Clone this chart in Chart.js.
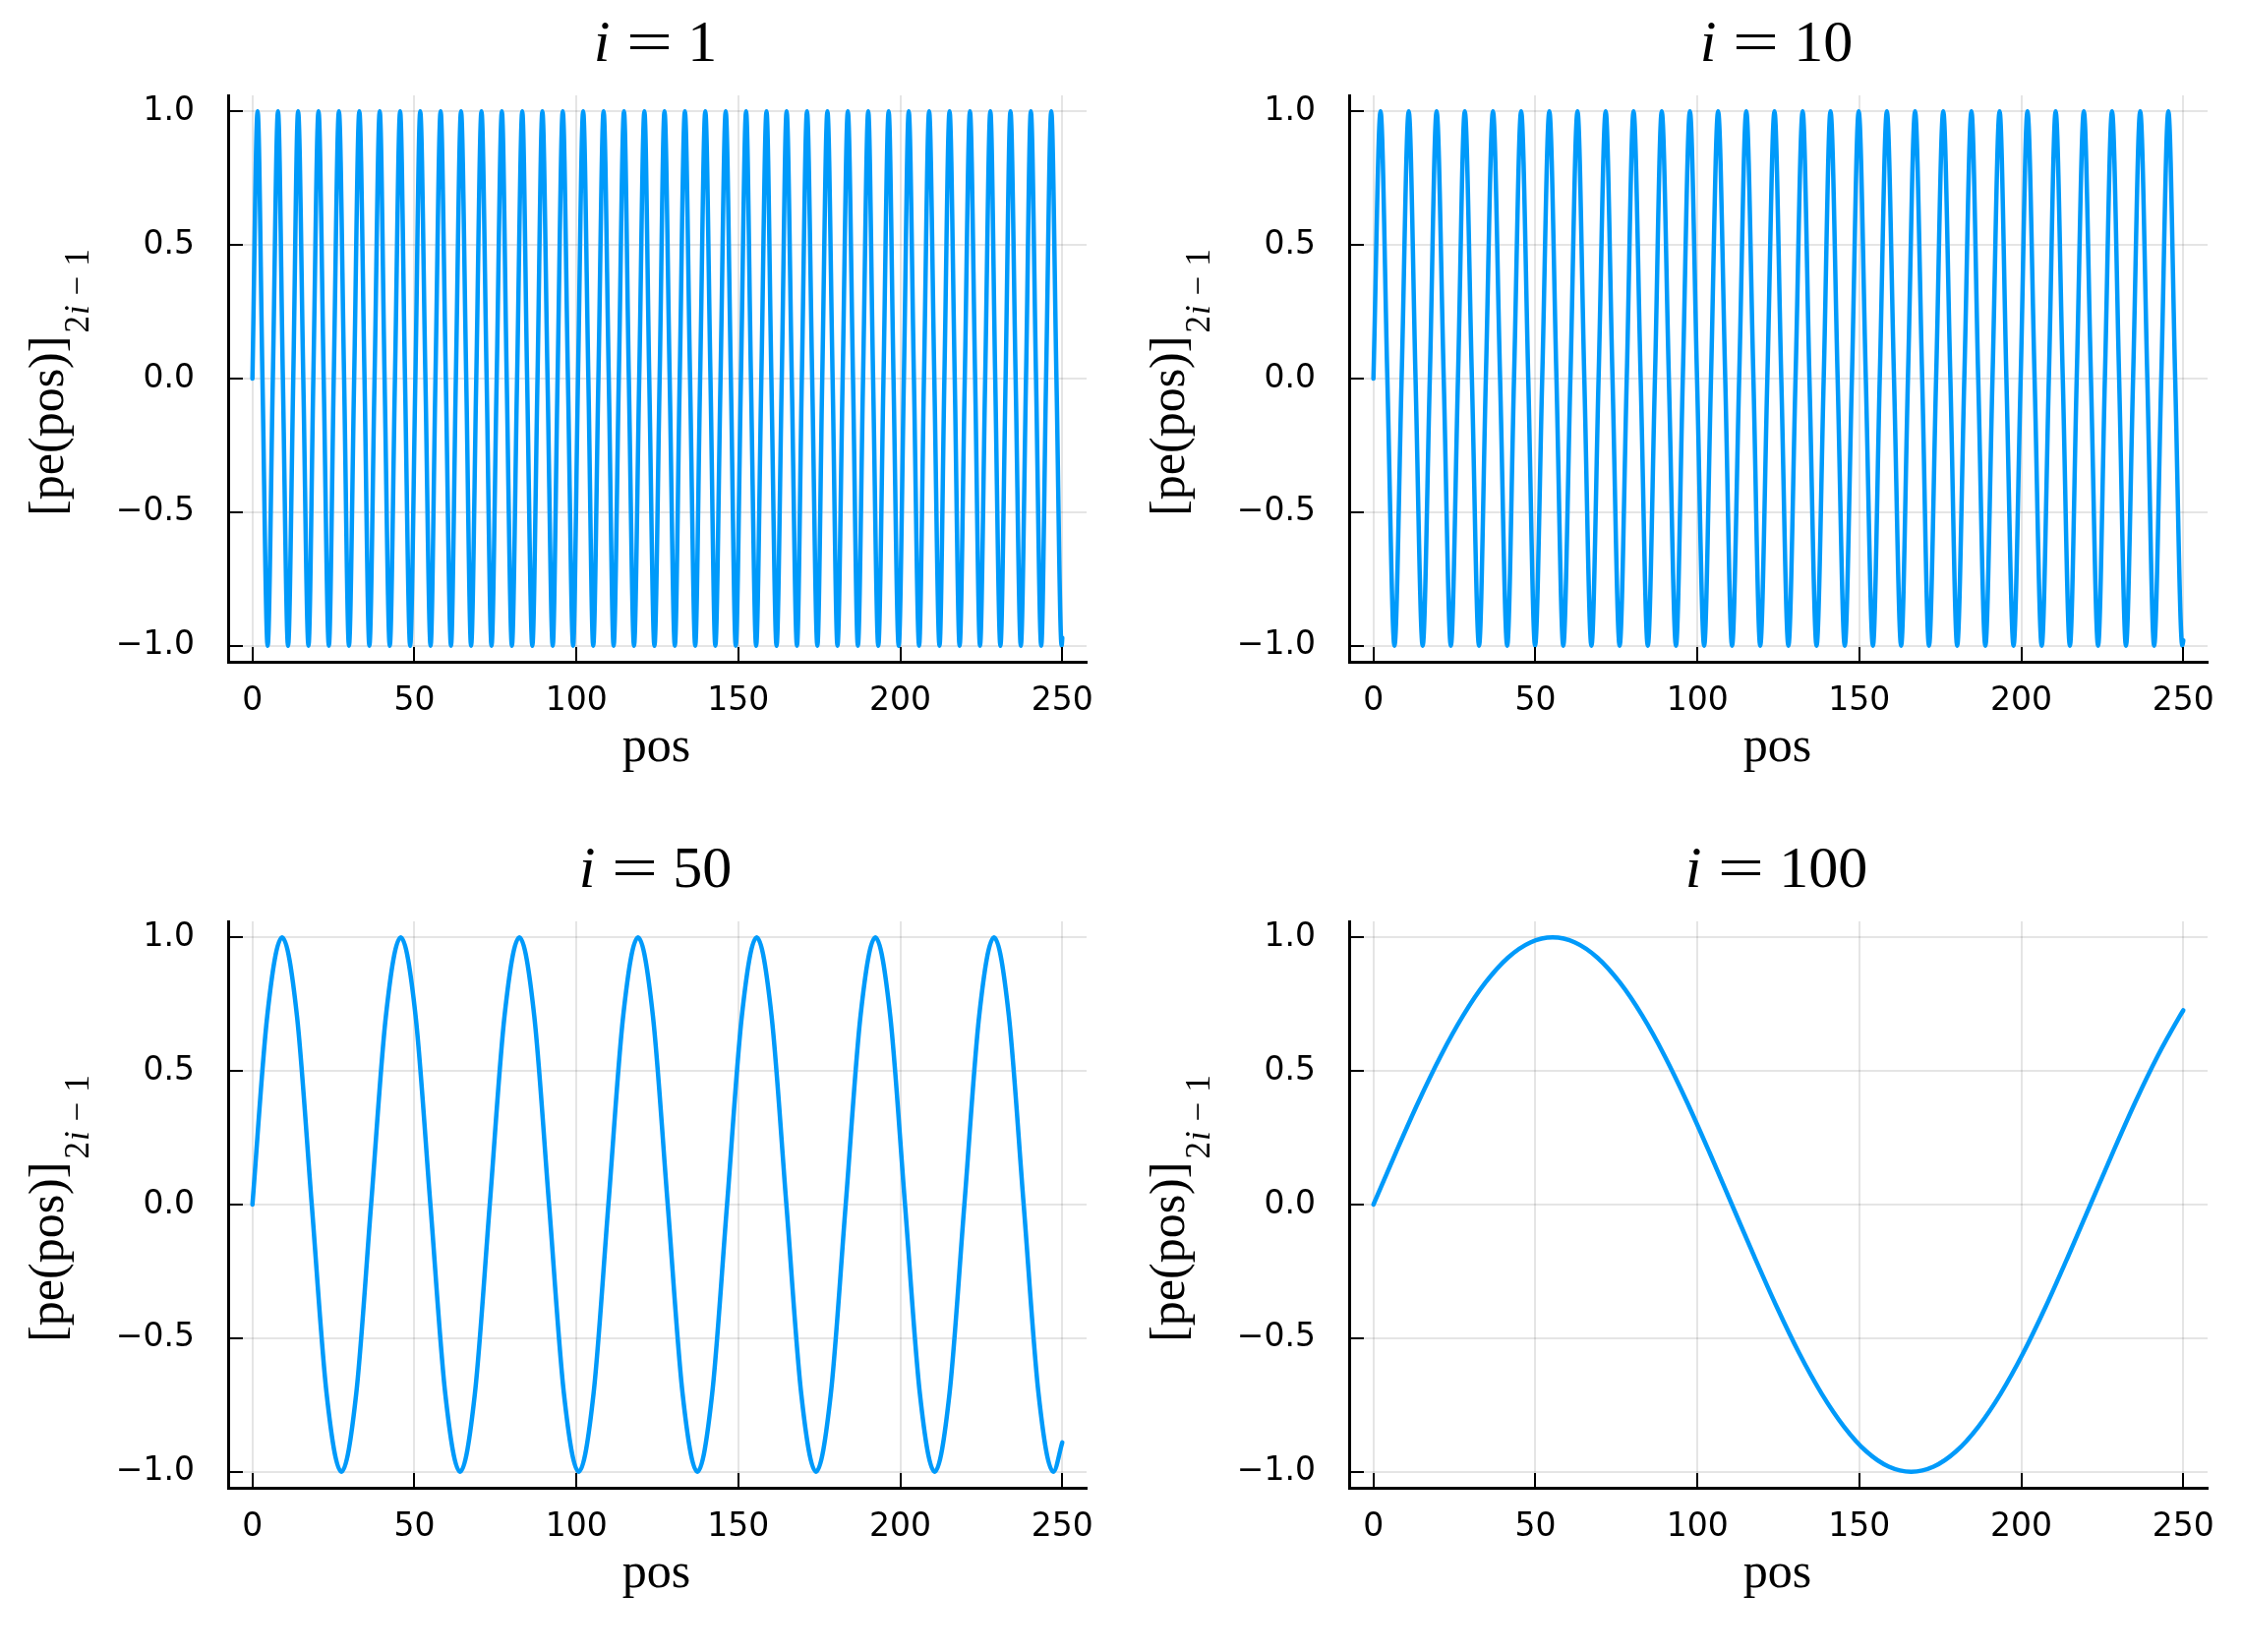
<!DOCTYPE html>
<html><head><meta charset="utf-8">
<script src="https://cdn.jsdelivr.net/npm/chart.js@4.4.1/dist/chart.umd.min.js"></script>
<style>
html,body{margin:0;padding:0;background:#fff;}
#wrap{position:relative;width:2280px;height:1680px;background:#fff;}
canvas{position:absolute;}
</style></head><body>
<div id="wrap">
<canvas id="c0" width="1140" height="840" style="left:0;top:0"></canvas>
<canvas id="c1" width="1140" height="840" style="left:1140px;top:0"></canvas>
<canvas id="c2" width="1140" height="840" style="left:0;top:840px"></canvas>
<canvas id="c3" width="1140" height="840" style="left:1140px;top:840px"></canvas>
</div>
<script>
// ---- labels / ticks ----
const panelNums = ['1', '10', '50', '100'];
const xTicks = [0, 50, 100, 150, 200, 250];
const xTickLabels = ['0', '50', '100', '150', '200', '250'];
const yTicks = [-1, -0.5, 0, 0.5, 1];
const yTickLabels = ['\u22121.0', '\u22120.5', '0.0', '0.5', '1.0'];
const xLabel = 'pos';
const yLabelMain = '[pe(pos)]';

// ---- i = 1 (extrema and zero crossings) ----
const posI1 = [
0.0,1.6,3.1,4.7,6.3,7.9,9.4,11.0,12.6,14.1,
15.7,17.3,18.8,20.4,22.0,23.6,25.1,26.7,28.3,29.8,
31.4,33.0,34.6,36.1,37.7,39.3,40.8,42.4,44.0,45.6,
47.1,48.7,50.3,51.8,53.4,55.0,56.5,58.1,59.7,61.3,
62.8,64.4,66.0,67.5,69.1,70.7,72.3,73.8,75.4,77.0,
78.5,80.1,81.7,83.3,84.8,86.4,88.0,89.5,91.1,92.7,
94.2,95.8,97.4,99.0,100.5,102.1,103.7,105.2,106.8,108.4,
110.0,111.5,113.1,114.7,116.2,117.8,119.4,121.0,122.5,124.1,
125.7,127.2,128.8,130.4,131.9,133.5,135.1,136.7,138.2,139.8,
141.4,142.9,144.5,146.1,147.7,149.2,150.8,152.4,153.9,155.5,
157.1,158.7,160.2,161.8,163.4,164.9,166.5,168.1,169.6,171.2,
172.8,174.4,175.9,177.5,179.1,180.6,182.2,183.8,185.4,186.9,
188.5,190.1,191.6,193.2,194.8,196.4,197.9,199.5,201.1,202.6,
204.2,205.8,207.3,208.9,210.5,212.1,213.6,215.2,216.8,218.3,
219.9,221.5,223.1,224.6,226.2,227.8,229.3,230.9,232.5,234.0,
235.6,237.2,238.8,240.3,241.9,243.5,245.0,246.6,248.2,249.8,
250.0];
const peI1 = [
0,1,0,-1,0,1,0,-1,0,1,0,-1,0,1,0,-1,0,1,0,-1,0,1,0,-1,0,1,0,-1,0,1,0,-1,0,1,0,-1,0,1,0,-1,
0,1,0,-1,0,1,0,-1,0,1,0,-1,0,1,0,-1,0,1,0,-1,0,1,0,-1,0,1,0,-1,0,1,0,-1,0,1,0,-1,0,1,0,-1,
0,1,0,-1,0,1,0,-1,0,1,0,-1,0,1,0,-1,0,1,0,-1,0,1,0,-1,0,1,0,-1,0,1,0,-1,0,1,0,-1,0,1,0,-1,
0,1,0,-1,0,1,0,-1,0,1,0,-1,0,1,0,-1,0,1,0,-1,0,1,0,-1,0,1,0,-1,0,1,0,-1,0,1,0,-1,0,1,0,-1,
-0.97];

// ---- i = 10 ----
const posI10 = [
0.0,2.2,4.3,6.5,8.7,10.9,13.0,15.2,17.4,19.5,
21.7,23.9,26.1,28.2,30.4,32.6,34.7,36.9,39.1,41.3,
43.4,45.6,47.8,49.9,52.1,54.3,56.5,58.6,60.8,63.0,
65.1,67.3,69.5,71.7,73.8,76.0,78.2,80.3,82.5,84.7,
86.9,89.0,91.2,93.4,95.5,97.7,99.9,102.1,104.2,106.4,
108.6,110.7,112.9,115.1,117.3,119.4,121.6,123.8,125.9,128.1,
130.3,132.5,134.6,136.8,139.0,141.1,143.3,145.5,147.7,149.8,
152.0,154.2,156.3,158.5,160.7,162.9,165.0,167.2,169.4,171.5,
173.7,175.9,178.1,180.2,182.4,184.6,186.7,188.9,191.1,193.3,
195.4,197.6,199.8,201.9,204.1,206.3,208.5,210.6,212.8,215.0,
217.1,219.3,221.5,223.7,225.8,228.0,230.2,232.3,234.5,236.7,
238.9,241.0,243.2,245.4,247.5,249.7,
250.0];
const peI10 = [
0,1,0,-1,0,1,0,-1,0,1,0,-1,0,1,0,-1,0,1,0,-1,0,1,0,-1,0,1,0,-1,0,1,0,-1,
0,1,0,-1,0,1,0,-1,0,1,0,-1,0,1,0,-1,0,1,0,-1,0,1,0,-1,0,1,0,-1,0,1,0,-1,
0,1,0,-1,0,1,0,-1,0,1,0,-1,0,1,0,-1,0,1,0,-1,0,1,0,-1,0,1,0,-1,0,1,0,-1,
0,1,0,-1,0,1,0,-1,0,1,0,-1,0,1,0,-1,0,1,0,-1,
-0.98];

// ---- i = 50 ----
const posI50 = [
0.00,4.58,9.16,13.74,18.31,22.89,27.47,32.05,
36.63,41.21,45.79,50.36,54.94,59.52,64.10,68.68,
73.26,77.83,82.41,86.99,91.57,96.15,100.73,105.31,
109.88,114.46,119.04,123.62,128.20,132.78,137.36,141.93,
146.51,151.09,155.67,160.25,164.83,169.40,173.98,178.56,
183.14,187.72,192.30,196.88,201.45,206.03,210.61,215.19,
219.77,224.35,228.93,233.50,238.08,242.66,247.24,
250.00];
const peI50 = [
0,0.707,1,0.707,0,-0.707,-1,-0.707,
0,0.707,1,0.707,0,-0.707,-1,-0.707,
0,0.707,1,0.707,0,-0.707,-1,-0.707,
0,0.707,1,0.707,0,-0.707,-1,-0.707,
0,0.707,1,0.707,0,-0.707,-1,-0.707,
0,0.707,1,0.707,0,-0.707,-1,-0.707,
0,0.707,1,0.707,0,-0.707,-1,
-0.89];

// ---- i = 100 ----
const posI100 = [
0.00,6.92,13.83,20.75,27.67,34.58,41.50,48.42,55.33,62.25,
69.17,76.08,83.00,89.92,96.83,103.75,110.66,117.58,124.50,131.41,
138.33,145.25,152.16,159.08,166.00,172.91,179.83,186.75,193.66,200.58,
207.50,214.41,221.33,228.25,235.16,242.08,249.00,250.00];
const peI100 = [
0,0.195,0.383,0.556,0.707,0.831,0.924,0.981,1,0.981,
0.924,0.831,0.707,0.556,0.383,0.195,0,-0.195,-0.383,-0.556,
-0.707,-0.831,-0.924,-0.981,-1,-0.981,-0.924,-0.831,-0.707,-0.556,
-0.383,-0.195,0,0.195,0.383,0.556,0.707,0.727];

const panelPos = [posI1, posI10, posI50, posI100];
const panelVals = [peI1, peI10, peI50, peI100];

const SERIF = '"Liberation Serif", "DejaVu Serif", serif';

const deco = {
  id: 'deco',
  afterDraw(chart, args, opts) {
    const ctx = chart.ctx;
    const xs = chart.scales.x, ys = chart.scales.y;
    const ca = chart.chartArea;
    ctx.save();
    // inward tick marks
    ctx.strokeStyle = '#000';
    ctx.lineWidth = 2;
    xTicks.forEach(v => {
      const p = Math.round(xs.getPixelForValue(v));
      ctx.beginPath(); ctx.moveTo(p, ca.bottom); ctx.lineTo(p, ca.bottom - 15); ctx.stroke();
    });
    yTicks.forEach(v => {
      const p = Math.round(ys.getPixelForValue(v));
      ctx.beginPath(); ctx.moveTo(ca.left, p); ctx.lineTo(ca.left + 15, p); ctx.stroke();
    });

    ctx.fillStyle = '#000';
    ctx.textBaseline = 'alphabetic';
    ctx.textAlign = 'left';
    const cx = (ca.left + ca.right) / 2 - 2;

    // title: i = N
    const fI = 'italic 60px ' + SERIF;
    const fR = '60px ' + SERIF;
    ctx.font = fI; const wi = ctx.measureText('i').width;
    ctx.font = fR; const wn = ctx.measureText(opts.num).width;
    const eqW = 42, g1 = 19, g2 = 18;
    const total = wi + g1 + eqW + g2 + wn;
    let x = cx - total / 2;
    const by = 62;
    ctx.font = fI; ctx.fillText('i', x, by);
    x += wi + g1;
    ctx.font = fR;
    ctx.save();
    ctx.translate(x + eqW / 2, by);
    ctx.scale(1.4, 1);
    ctx.textAlign = 'center';
    ctx.fillText('=', 0, 0);
    ctx.restore();
    x += eqW + g2;
    ctx.fillText(opts.num, x, by);

    // x label
    ctx.font = '50px ' + SERIF;
    ctx.textAlign = 'center';
    ctx.fillText(xLabel, cx + 1, ca.bottom + 101);

    // y label (rotated) with subscript 2i − 1
    ctx.textAlign = 'left';
    const fM = '50px ' + SERIF;
    const fS = '35px ' + SERIF;
    const fSI = 'italic 35px ' + SERIF;
    ctx.font = fM; const wM = ctx.measureText(yLabelMain).width;
    ctx.font = fS;
    const w2 = ctx.measureText('2').width;
    const wMinus = ctx.measureText('\u2212').width;
    const w1 = ctx.measureText('1').width;
    ctx.font = fSI; const wsi = ctx.measureText('i').width;
    const sx2 = wM + 3;
    const sxi = sx2 + w2 + 1;
    const sxm = sxi + wsi + 10;
    const sx1 = sxm + wMinus + 10;
    const L = sx1 + w1;
    const cy = (ca.top + ca.bottom) / 2 + 4;
    ctx.save();
    ctx.translate(63.5, cy);
    ctx.rotate(-Math.PI / 2);
    const x0 = -L / 2;
    ctx.font = fM; ctx.fillText(yLabelMain, x0, 0);
    ctx.font = fS; ctx.fillText('2', x0 + sx2, 26.5);
    ctx.font = fSI; ctx.fillText('i', x0 + sxi, 26.5);
    ctx.font = fS; ctx.fillText('\u2212', x0 + sxm, 26.5);
    ctx.fillText('1', x0 + sx1, 26.5);
    ctx.restore();

    ctx.restore();
  }
};

function makeChart(k) {
  const pos = panelPos[k], vals = panelVals[k];
  const data = pos.map((xv, j) => ({ x: xv, y: vals[j] }));
  new Chart(document.getElementById('c' + k), {
    type: 'scatter',
    data: {
      datasets: [{
        data: data,
        showLine: true,
        borderColor: '#009AFA',
        backgroundColor: '#009AFA',
        borderWidth: 4.5,
        pointRadius: 0,
        pointHoverRadius: 0,
        cubicInterpolationMode: 'monotone',
        fill: false,
        borderCapStyle: 'round',
        borderJoinStyle: 'round'
      }]
    },
    options: {
      responsive: false,
      animation: false,
      devicePixelRatio: 1,
      events: [],
      layout: { padding: { left: 0, top: 97, right: 35, bottom: 0 }, autoPadding: false },
      plugins: {
        legend: { display: false },
        tooltip: { enabled: false },
        title: { display: false },
        deco: { num: panelNums[k] }
      },
      scales: {
        x: {
          type: 'linear',
          min: -7.5, max: 257.5,
          afterBuildTicks: s => { s.ticks = xTicks.map(v => ({ value: v })); },
          afterFit: s => { s.height = 167; },
          grid: { color: 'rgba(0,0,0,0.1)', lineWidth: 2, drawTicks: false },
          border: { display: true, color: '#000', width: 3 },
          ticks: {
            autoSkip: false, maxRotation: 0, minRotation: 0, padding: 21, color: '#000',
            font: { family: '"DejaVu Sans"', size: 33 },
            callback: (v, i) => xTickLabels[i]
          }
        },
        y: {
          type: 'linear',
          min: -1.06, max: 1.06,
          afterBuildTicks: s => { s.ticks = yTicks.map(v => ({ value: v })); },
          afterFit: s => { s.width = 232; },
          grid: { color: 'rgba(0,0,0,0.1)', lineWidth: 2, drawTicks: false },
          border: { display: true, color: '#000', width: 3 },
          ticks: {
            autoSkip: false, padding: 34, color: '#000',
            font: { family: '"DejaVu Sans"', size: 33 },
            callback: (v, i) => yTickLabels[i]
          }
        }
      }
    },
    plugins: [deco]
  });
}
for (let k = 0; k < 4; k++) makeChart(k);
</script>
</body></html>
